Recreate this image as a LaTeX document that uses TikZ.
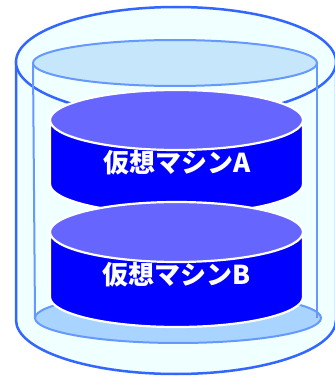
\documentclass[tikz,border=0pt]{standalone}
\usepackage{fontspec}
\newfontfamily\jpfont{Noto Sans CJK JP}
\definecolor{outerline}{HTML}{3366FF}
\definecolor{outerfill}{HTML}{F0FFFF}
\definecolor{innerline}{HTML}{6699FF}
\definecolor{innertop}{HTML}{C6E6FB}
\definecolor{innerbottom}{HTML}{A8D4FF}
\definecolor{disktop}{HTML}{6666FF}
\definecolor{diskside}{HTML}{0000FF}
\tikzset{
  outershell/.style={draw=outerline, line width=2.5pt, fill=outerfill},
  innershell/.style={draw=innerline, line width=2pt},
  diskedge/.style={draw=white, line width=2.2pt},
  disklabel/.style={text=white, font=\jpfont\bfseries\fontsize{26}{26}\selectfont, inner sep=0pt},
}
% a disk: #1 = centre x, #2 = top centre y, #3 = bottom centre y, #4 = x radius, #5 = y radius
\newcommand{\drawdisk}[5]{%
  \path[diskedge, fill=diskside] (#1-#4,#2) -- (#1-#4,#3)
    arc[start angle=180, end angle=360, x radius=#4, y radius=#5] -- (#1+#4,#2) -- cycle;
  \path[diskedge, fill=disktop] (#1,#2) ellipse[x radius=#4, y radius=#5];
}
\begin{document}
\begin{tikzpicture}[x=1pt, y=1pt]
\useasboundingbox (0,0) rectangle (335,376);
% outer cylinder
\path[outershell] (16,314) -- (16,56)
  arc[start angle=180, end angle=360, x radius=160, y radius=54] -- (336,314) -- cycle;
\path[outershell] (176,314) ellipse[x radius=160, y radius=55];
% inner cylinder
\path[innershell, fill=innerbottom] (178,58) ellipse[x radius=143, y radius=25];
\draw[innershell] (33,313) -- (35,58);
\draw[innershell] (317,313) -- (317,58);
\path[innershell, fill=innertop] (175,313) ellipse[x radius=142, y radius=23];
% the two disks
\drawdisk{176.5}{256}{192}{126.5}{30}
\node[disklabel] (vmA) at (177,213) {仮想マシンA};
\drawdisk{176.5}{144}{79}{126.5}{30}
\node[disklabel] (vmB) at (177,101) {仮想マシンB};
\end{tikzpicture}
\end{document}
